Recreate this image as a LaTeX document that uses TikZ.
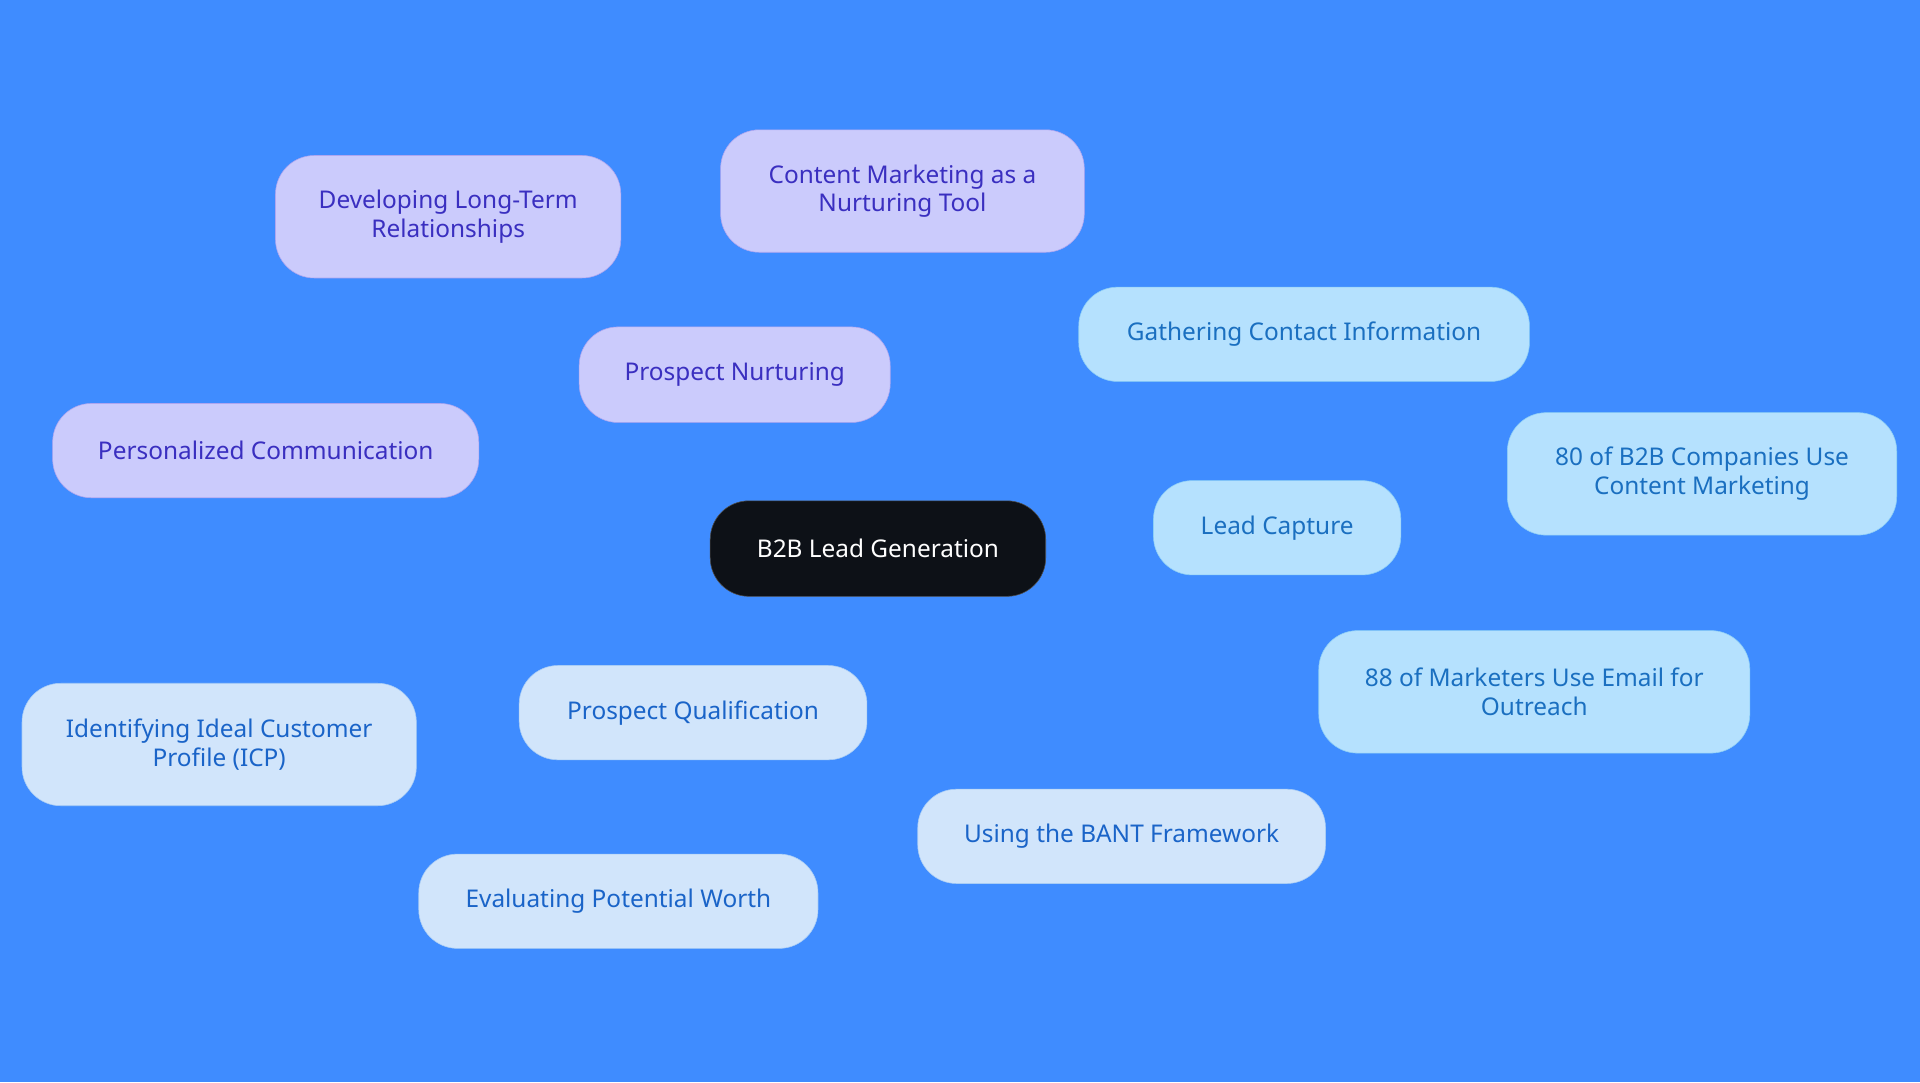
\documentclass[tikz,border=0pt]{standalone}
\usepackage{fontspec}
\setmainfont{Noto Sans}
\usetikzlibrary{backgrounds}
\definecolor{bgblue}{HTML}{3F8CFF}
\definecolor{rootfill}{HTML}{0D1117}
\definecolor{nurfill}{HTML}{CBCBFC}
\definecolor{nurtext}{HTML}{3A2FC0}
\definecolor{nurline}{HTML}{AFA6F0}
\definecolor{capfill}{HTML}{B5E1FE}
\definecolor{captext}{HTML}{1A6FC0}
\definecolor{capline}{HTML}{8DCFF6}
\definecolor{qualfill}{HTML}{D1E5FB}
\definecolor{qualtext}{HTML}{1A64C8}
\definecolor{qualline}{HTML}{A9CDF5}
\tikzset{
  box/.style={rounded corners=0.95cm, align=center, inner sep=0pt,
    font=\fontsize{17}{20}\selectfont},
  root/.style={box, fill=rootfill, draw=black!70, text=white},
  nur/.style={box, fill=nurfill, draw=nurline, text=nurtext},
  capt/.style={box, fill=capfill, draw=capline, text=captext},
  qual/.style={box, fill=qualfill, draw=qualline, text=qualtext},
  nurlink/.style={draw=nurline, line width=1.6pt},
  caplink/.style={draw=capline, line width=1.6pt},
  quallink/.style={draw=qualline, line width=1.6pt}
}
\begin{document}
\begin{tikzpicture}[x=0.03cm, y=-0.03cm]
\fill[bgblue] (0,0) rectangle (1568,884);
\useasboundingbox (0,0) rectangle (1568,884);

%Central topic
\node[root, minimum width=8.22cm, minimum height=2.34cm] (lead) at (717,448) {B2B Lead Generation};

%Nurturing branch
\node[nur, minimum width=7.62cm, minimum height=2.34cm] (nurture) at (600,306) {Prospect Nurturing};
\node[nur, minimum width=8.46cm, minimum height=3cm] (longterm) at (366,177) {Developing Long-Term\\Relationships};
\node[nur, minimum width=8.91cm, minimum height=3cm] (content) at (737,156) {Content Marketing as a\\Nurturing Tool};
\node[nur, minimum width=10.44cm, minimum height=2.31cm] (personal) at (217,368) {Personalized Communication};

%Capture branch
\node[capt, minimum width=6.06cm, minimum height=2.31cm] (capture) at (1043,431) {Lead Capture};
\node[capt, minimum width=11.04cm, minimum height=2.31cm] (contact) at (1065,273) {Gathering Contact Information};
\node[capt, minimum width=9.54cm, minimum height=3cm] (eighty) at (1390,387) {80 of B2B Companies Use\\Content Marketing};
\node[capt, minimum width=10.56cm, minimum height=3cm] (email) at (1253,565) {88 of Marketers Use Email for\\Outreach};

%Qualification branch
\node[qual, minimum width=8.52cm, minimum height=2.31cm] (qualify) at (566,582) {Prospect Qualification};
\node[qual, minimum width=9.66cm, minimum height=3cm] (icp) at (179,608) {Identifying Ideal Customer\\Profile (ICP)};
\node[qual, minimum width=9.78cm, minimum height=2.31cm] (worth) at (505,736) {Evaluating Potential Worth};
\node[qual, minimum width=9.99cm, minimum height=2.31cm] (bant) at (916,683) {Using the BANT Framework};

%Links
\begin{scope}[on background layer]
\draw[nurlink] (lead) -- (nurture);
\draw[nurlink] (nurture) -- (longterm);
\draw[nurlink] (nurture) -- (content);
\draw[nurlink] (nurture) -- (personal);
\draw[caplink] (lead) -- (capture);
\draw[caplink] (capture) -- (contact);
\draw[caplink] (capture) -- (eighty);
\draw[caplink] (capture) -- (email);
\draw[quallink] (lead) -- (qualify);
\draw[quallink] (qualify) -- (icp);
\draw[quallink] (qualify) -- (worth);
\draw[quallink] (qualify) -- (bant);
\end{scope}
\end{tikzpicture}
\end{document}
